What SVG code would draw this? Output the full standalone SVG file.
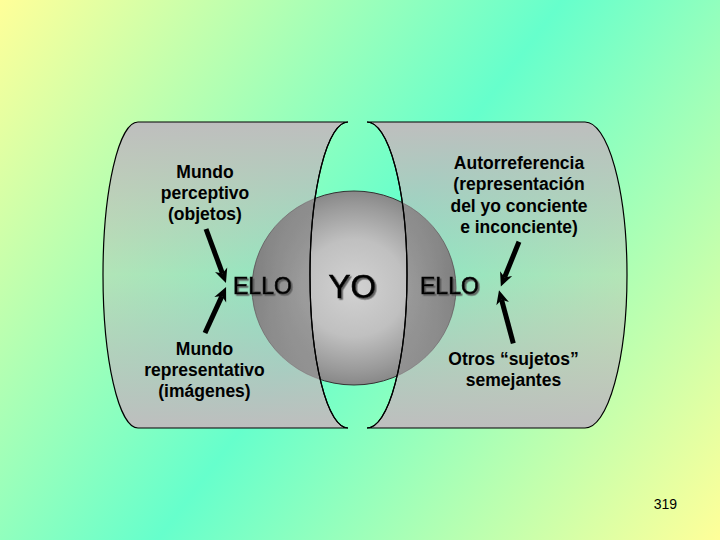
<svg xmlns="http://www.w3.org/2000/svg" width="720" height="540" viewBox="0 0 720 540">
  <defs>
    <linearGradient id="bg" gradientUnits="userSpaceOnUse" x1="0" y1="0" x2="720" y2="540">
      <stop offset="0" stop-color="#FFFF99"/>
      <stop offset="0.5" stop-color="#66FFCC"/>
      <stop offset="1" stop-color="#FFFF99"/>
    </linearGradient>
    <linearGradient id="cylFill" gradientUnits="userSpaceOnUse" x1="0" y1="122" x2="0" y2="428">
      <stop offset="0" stop-color="#BEBEBE" stop-opacity="1"/>
      <stop offset="0.5" stop-color="#BBBBBB" stop-opacity="0.38"/>
      <stop offset="1" stop-color="#BEBEBE" stop-opacity="1"/>
    </linearGradient>
    <radialGradient id="sph" cx="0.5" cy="0.5" r="0.5">
      <stop offset="0" stop-color="#D2D2D2"/>
      <stop offset="0.5" stop-color="#C0C0C0"/>
      <stop offset="0.85" stop-color="#9A9A9A"/>
      <stop offset="1" stop-color="#888888"/>
    </radialGradient>
    <clipPath id="cylClip">
      <path d="M138,122 L348,122 A38,153 0 0 0 348,428 L138,428 A35,153 0 0 1 138,122 Z"/>
      <path d="M367,122 L585,122 A42,153 0 0 1 585,428 L367,428 A40,153 0 0 0 367,122 Z"/>
    </clipPath>
    <filter id="shadow" x="-10%" y="-10%" width="130%" height="140%">
      <feDropShadow dx="1.6" dy="1.6" stdDeviation="0.3" flood-color="#555555" flood-opacity="0.9"/>
    </filter>
    <marker id="head" markerUnits="userSpaceOnUse" markerWidth="16" markerHeight="14" refX="4" refY="6.5" orient="auto" overflow="visible">
      <path d="M0,0 L14,6.5 L0,13 L4,6.5 Z" fill="#000"/>
    </marker>
    <style>
      .cyl { fill: url(#cylFill); stroke: #000; stroke-width: 1.2; }
      .lbl { font-family: "Liberation Sans", Arial, sans-serif; font-weight: bold; font-size: 17.5px; fill: #000; text-anchor: middle; }
      .big { font-family: "Liberation Sans", Arial, sans-serif; fill: #000; stroke: #000; stroke-width: 0.6; filter: url(#shadow); }
      .arrow { stroke: #000; stroke-width: 5; fill: none; marker-end: url(#head); }
    </style>
  </defs>

  <rect x="0" y="0" width="720" height="540" fill="url(#bg)"/>

  <g id="sphere">
    <ellipse cx="354" cy="288" rx="102" ry="97" fill="url(#sph)" stroke="#333" stroke-width="1"/>
  </g>

  <g id="cyl-left">
    <path class="cyl" d="M138,122 L348,122 A38,153 0 0 0 348,428 L138,428 A35,153 0 0 1 138,122 Z"/>
  </g>
  <g id="cyl-right">
    <path class="cyl" d="M367,122 L585,122 A42,153 0 0 1 585,428 L367,428 A40,153 0 0 0 367,122 Z"/>
  </g>

  <g id="sphere-shade" clip-path="url(#cylClip)">
    <ellipse cx="354" cy="288" rx="102" ry="97" fill="#000" fill-opacity="0.18"/>
  </g>

  <g id="outlines" fill="none" stroke="#000" stroke-width="1.2">
    <path d="M348,122 A38,153 0 0 0 348,428"/>
    <path d="M367,428 A40,153 0 0 0 367,122"/>
  </g>

  <g id="connectors">
    <line class="arrow" x1="206" y1="229" x2="222.5" y2="273.6"/>
    <line class="arrow" x1="205" y1="333" x2="221.9" y2="296.1"/>
    <line class="arrow" x1="519" y1="241.7" x2="504.6" y2="277.3"/>
    <line class="arrow" x1="513.3" y1="343.3" x2="501.6" y2="299.8"/>
  </g>

  <g id="node-perceptivo">
    <text class="lbl" x="205" y="178">Mundo</text>
    <text class="lbl" x="205" y="199">perceptivo</text>
    <text class="lbl" x="205" y="220">(objetos)</text>
  </g>
  <g id="node-representativo">
    <text class="lbl" x="204.5" y="354.5">Mundo</text>
    <text class="lbl" x="204.5" y="375.5">representativo</text>
    <text class="lbl" x="204.5" y="396.5">(imágenes)</text>
  </g>
  <g id="node-autorreferencia">
    <text class="lbl" x="519" y="168.5">Autorreferencia</text>
    <text class="lbl" x="519" y="190">(representación</text>
    <text class="lbl" x="519" y="211.5">del yo conciente</text>
    <text class="lbl" x="519" y="233">e inconciente)</text>
  </g>
  <g id="node-otros">
    <text class="lbl" x="513.5" y="364.5">Otros “sujetos”</text>
    <text class="lbl" x="513.5" y="386">semejantes</text>
  </g>
  <g id="node-ello-left">
    <text class="big" x="233" y="294" font-size="23">ELLO</text>
  </g>
  <g id="node-yo">
    <text class="big" x="328.5" y="297.5" font-size="33" stroke-width="1">YO</text>
  </g>
  <g id="node-ello-right">
    <text class="big" x="420" y="293.5" font-size="23">ELLO</text>
  </g>
  <g id="page-number">
    <text x="677" y="509" font-family="'Liberation Sans', Arial, sans-serif" font-size="14" text-anchor="end" fill="#000">319</text>
  </g>
</svg>
